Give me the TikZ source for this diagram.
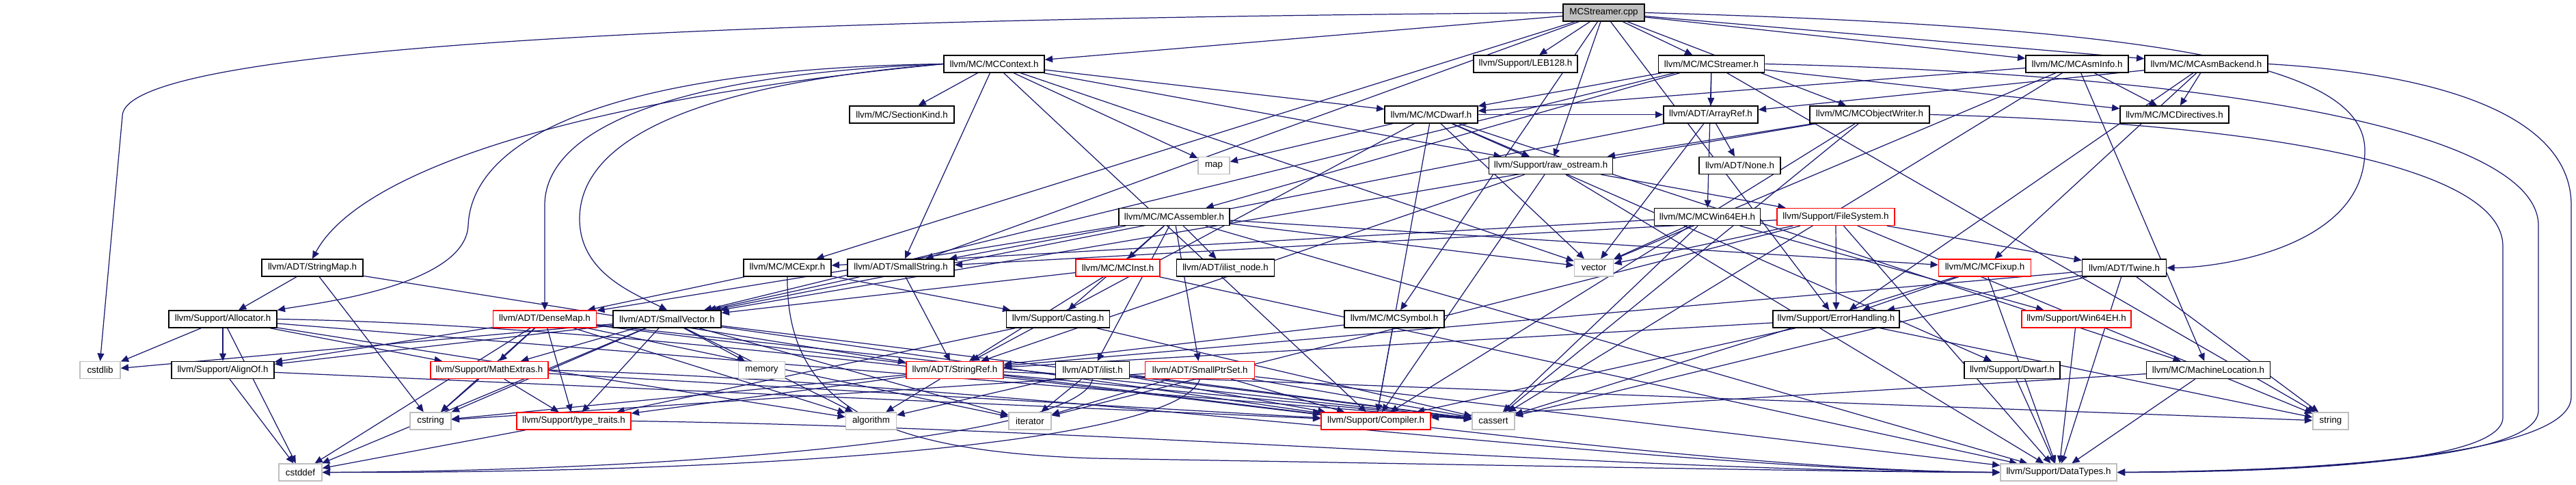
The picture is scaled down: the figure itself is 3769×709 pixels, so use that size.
\documentclass[tikz,border=0pt]{standalone}
\usepackage{fontspec}
\setmainfont{Liberation Sans}
\usetikzlibrary{arrows.meta,backgrounds}
\definecolor{edgecol}{HTML}{191970}
\definecolor{graybd}{HTML}{BFBFBF}
\tikzset{
  box/.style={draw=black, line width=0.4pt, fill=white, rectangle, inner sep=0pt,
    minimum height=0.25cm, font=\fontsize{3.8pt}{4.5pt}\selectfont},
  redbox/.style={box, draw=red},
  graybox/.style={box, draw=graybd},
  rootbox/.style={box, fill=graybd},
  edge/.style={draw=edgecol, line width=0.35pt, -{Triangle[length=3.2pt,width=2.8pt]}}
}
\begin{document}
\begin{tikzpicture}[x=0.01cm,y=-0.01cm]
\useasboundingbox (0,0) rectangle (3769,709);
% rank 0
\node[rootbox,minimum width=1.19cm] (root) at (2346.5,18.5) {MCStreamer.cpp};
% rank 1
\node[box,minimum width=1.47cm] (ctx) at (1454.5,93.5) {llvm/MC/MCContext.h};
\node[box,minimum width=1.52cm] (leb) at (2232,93.5) {llvm/Support/LEB128.h};
\node[box,minimum width=1.55cm] (strh) at (2504,93.5) {llvm/MC/MCStreamer.h};
\node[box,minimum width=1.50cm] (asminfo) at (3039,93.5) {llvm/MC/MCAsmInfo.h};
\node[box,minimum width=1.80cm] (asmbk) at (3228,93.5) {llvm/MC/MCAsmBackend.h};
% rank 2
\node[box,minimum width=1.53cm] (seckind) at (1319.5,167.5) {llvm/MC/SectionKind.h};
\node[box,minimum width=1.36cm] (dwarf) at (2094,167.5) {llvm/MC/MCDwarf.h};
\node[box,minimum width=1.38cm] (arrayref) at (2503,167.5) {llvm/ADT/ArrayRef.h};
\node[box,minimum width=1.75cm] (objw) at (2735.5,167.5) {llvm/MC/MCObjectWriter.h};
\node[box,minimum width=1.59cm] (direct) at (3181.5,167.5) {llvm/MC/MCDirectives.h};
% rank 3
\node[graybox,minimum width=0.46cm] (map) at (1776,242) {map};
\node[box,minimum width=1.81cm] (rawos) at (2269,242) {llvm/Support/raw\_ostream.h};
\node[box,minimum width=1.19cm] (none) at (2545.5,242) {llvm/ADT/None.h};
% rank 4
\node[box,minimum width=1.62cm] (asm) at (1718,317) {llvm/MC/MCAssembler.h};
\node[box,minimum width=1.55cm] (win64) at (2498,317) {llvm/MC/MCWin64EH.h};
\node[redbox,minimum width=1.72cm] (fs) at (2686,317) {llvm/Support/FileSystem.h};
% rank 5
\node[box,minimum width=1.48cm] (smap) at (457,391.5) {llvm/ADT/StringMap.h};
\node[box,minimum width=1.28cm] (expr) at (1152,391.5) {llvm/MC/MCExpr.h};
\node[box,minimum width=1.56cm] (sstr) at (1318,391.5) {llvm/ADT/SmallString.h};
\node[redbox,minimum width=1.23cm] (inst) at (1635.5,391.5) {llvm/MC/MCInst.h};
\node[box,minimum width=1.43cm] (ilnode) at (1793,391.5) {llvm/ADT/ilist\_node.h};
\node[graybox,minimum width=0.57cm] (vector) at (2332,391.5) {vector};
\node[redbox,minimum width=1.35cm] (fixup) at (2904,391.5) {llvm/MC/MCFixup.h};
\node[box,minimum width=1.23cm] (twine) at (3108,391.5) {llvm/ADT/Twine.h};
% rank 6
\node[box,minimum width=1.58cm] (alloc) at (326,466.5) {llvm/Support/Allocator.h};
\node[redbox,minimum width=1.51cm] (dmap) at (797,466.5) {llvm/ADT/DenseMap.h};
\node[box,minimum width=1.58cm] (svec) at (976,466.5) {llvm/ADT/SmallVector.h};
\node[box,minimum width=1.51cm] (cast) at (1548,466.5) {llvm/Support/Casting.h};
\node[box,minimum width=1.46cm] (sym) at (2040,466.5) {llvm/MC/MCSymbol.h};
\node[box,minimum width=1.85cm] (err) at (2686.5,466.5) {llvm/Support/ErrorHandling.h};
\node[redbox,minimum width=1.60cm] (w64) at (3038,466.5) {llvm/Support/Win64EH.h};
% rank 7
\node[graybox,minimum width=0.59cm] (cstdlib) at (146.5,541) {cstdlib};
\node[box,minimum width=1.50cm] (alignof) at (326,541) {llvm/Support/AlignOf.h};
\node[redbox,minimum width=1.72cm] (mathx) at (716,541) {llvm/Support/MathExtras.h};
\node[graybox,minimum width=0.68cm] (memory) at (1114.5,541) {memory};
\node[redbox,minimum width=1.42cm] (sref) at (1397,541) {llvm/ADT/StringRef.h};
\node[box,minimum width=1.08cm] (ilist) at (1598.6,541) {llvm/ADT/ilist.h};
\node[redbox,minimum width=1.60cm] (sptr) at (1755.7,541) {llvm/ADT/SmallPtrSet.h};
\node[box,minimum width=1.40cm] (dw) at (2944,541) {llvm/Support/Dwarf.h};
\node[box,minimum width=1.81cm] (mloc) at (3231,541) {llvm/MC/MachineLocation.h};
% rank 8
\node[graybox,minimum width=0.60cm] (cstring) at (630,615.5) {cstring};
\node[redbox,minimum width=1.67cm] (tt) at (839.5,615.5) {llvm/Support/type\_traits.h};
\node[graybox,minimum width=0.74cm] (algorithm) at (1274.5,615.5) {algorithm};
\node[graybox,minimum width=0.62cm] (iterator) at (1507,615.5) {iterator};
\node[redbox,minimum width=1.60cm] (comp) at (2013,615.5) {llvm/Support/Compiler.h};
\node[graybox,minimum width=0.62cm] (cassert) at (2185,615.5) {cassert};
\node[graybox,minimum width=0.52cm] (string) at (3410,615.5) {string};
% rank 9
\node[graybox,minimum width=0.63cm] (cstddef) at (439.5,690.5) {cstddef};
\node[graybox,minimum width=1.70cm] (dtypes) at (3012,690.5) {llvm/Support/DataTypes.h};

\begin{pgfonlayer}{background}
\foreach \a/\b in {
 root/leb, root/strh, root/asmbk, root/asminfo, root/ctx, root/expr, root/objw,
 root/sym, root/err, root/rawos, root/sstr,
 strh/arrayref, strh/svec, strh/asm, strh/direct, strh/dwarf, strh/win64, strh/string,
 ctx/sstr, ctx/dwarf, ctx/seckind, ctx/comp, ctx/rawos, ctx/map, ctx/vector,
 asminfo/direct, asminfo/dwarf, asminfo/mloc, asminfo/cassert, asminfo/vector,
 asmbk/arrayref, asmbk/direct, asmbk/fixup, asmbk/err,
 dwarf/arrayref, dwarf/sref, dwarf/mloc, dwarf/comp, dwarf/dw, dwarf/rawos, dwarf/map, dwarf/vector,
 arrayref/none, arrayref/svec, arrayref/vector,
 objw/svec, objw/comp, objw/rawos, objw/cassert,
 rawos/sref, rawos/comp, rawos/dtypes, rawos/fs,
 asm/dmap, asm/sptr, asm/sstr, asm/ilist, asm/ilnode, asm/fixup, asm/inst, asm/cast, asm/dtypes, asm/vector,
 win64/expr, win64/w64, win64/cassert, win64/vector,
 fs/sstr, fs/twine, fs/dtypes, fs/err, fs/iterator, fs/string, fs/vector,
 smap/sref, smap/alloc, smap/cstring,
 expr/dmap, expr/cast,
 sstr/svec, sstr/sref,
 inst/svec, inst/sref, inst/dtypes,
 cast/tt, cast/cassert,
 sym/sref, sym/comp,
 err/sref, err/comp, err/string,
 w64/dtypes,
 fixup/dtypes, fixup/err, fixup/cassert,
 twine/sref, twine/dtypes, twine/err, twine/cassert, twine/string,
 dmap/alignof, dmap/comp, dmap/mathx, dmap/tt, dmap/algorithm, dmap/cassert, dmap/cstddef, dmap/cstring, dmap/iterator,
 svec/alignof, svec/comp, svec/mathx, svec/tt, svec/algorithm, svec/cassert, svec/cstddef, svec/cstdlib, svec/cstring, svec/iterator, svec/memory,
 alloc/alignof, alloc/mathx, alloc/algorithm, alloc/cassert, alloc/cstddef, alloc/cstdlib,
 sref/tt, sref/algorithm, sref/cassert, sref/cstring, sref/string,
 ilist/comp, ilist/algorithm, ilist/cassert, ilist/iterator,
 sptr/comp, sptr/dtypes, sptr/cassert, sptr/cstring, sptr/iterator,
 dw/dtypes, mloc/comp, mloc/dtypes, alignof/comp, alignof/cstddef,
 mathx/comp, mathx/tt, mathx/cstring,
 tt/cstddef}
 { \draw[edge] (\a) -- (\b); }
% routed edges
\draw[edge] (root.west) .. controls (700,30) and (179,90) .. (179,170) -- (cstdlib.north);
\draw[edge] (root.east) .. controls (3200,40) and (3460,100) .. (3460,220) .. controls (3460,360) and (3250,391.5) .. (twine.east);
\draw[edge] (asmbk.east) .. controls (3600,110) and (3762,180) .. (3762,300) -- (3762,580) .. controls (3762,675) and (3300,690) .. (dtypes.east);
\draw[edge] (strh.east) .. controls (3300,110) and (3714,200) .. (3714,330) -- (3714,600) .. controls (3714,680) and (3300,688) .. (dtypes.east);
\draw[edge] (objw.east) .. controls (3300,180) and (3662,240) .. (3662,360) -- (3662,610) .. controls (3662,682) and (3300,690) .. (dtypes.east);
\draw[edge] (ctx.west) .. controls (900,100) and (690,200) .. (685,330) .. controls (680,420) and (450,445) .. (alloc.north east);
\draw[edge] (ctx.west) .. controls (950,110) and (797,200) .. (797,300) -- (dmap.north);
\draw[edge] (ctx.west) .. controls (1000,125) and (848,210) .. (848,320) .. controls (848,400) and (930,430) .. (svec.north);
\draw[edge] (ctx.west) .. controls (800,150) and (520,260) .. (smap.north);
% bundles along the bottom
\draw[edge] (ilist.south) .. controls (1580,640) and (1000,688) .. (cstddef.east);
\draw[edge] (sptr.south) .. controls (1720,650) and (1100,692) .. (cstddef.east);
\draw[edge] (alloc.east) .. controls (1200,480) and (2300,686) .. (dtypes.west);
\draw[edge] (mathx.east) .. controls (1500,560) and (2400,688) .. (dtypes.west);
\draw[edge] (tt.east) .. controls (1600,625) and (2400,690) .. (dtypes.west);
\draw[edge] (expr.south) .. controls (1150,600) and (1300,660) .. (1600,670) .. controls (2200,680) and (2700,690) .. (dtypes.west);
\end{pgfonlayer}
\end{tikzpicture}
\end{document}
